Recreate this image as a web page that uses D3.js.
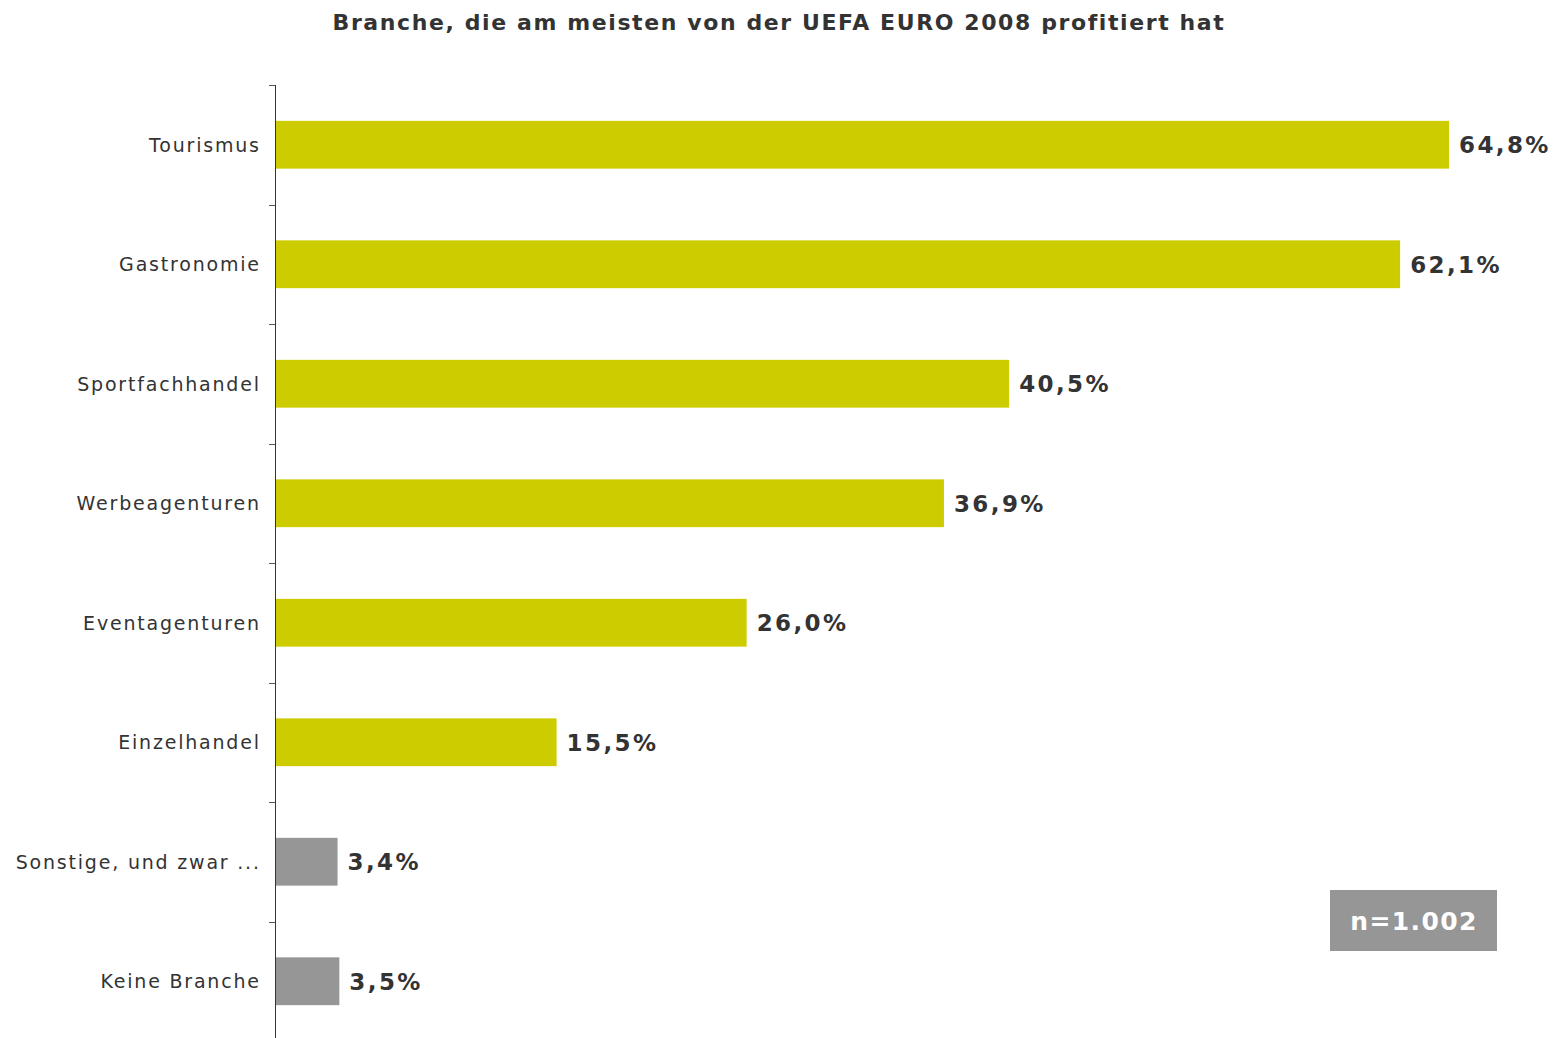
<!DOCTYPE html>
<html><head><meta charset="utf-8">
<script src="https://cdn.jsdelivr.net/npm/d3@7"></script>
<style>body{margin:0;background:#fff}svg{display:block}</style>
</head><body>
<svg id="c" width="1558" height="1038"></svg>
<script>
const categories = ["Tourismus","Gastronomie","Sportfachhandel","Werbeagenturen","Eventagenturen","Einzelhandel","Sonstige, und zwar ...","Keine Branche"];
const values = [64.8, 62.1, 40.5, 36.9, 26.0, 15.5, 3.4, 3.5];
const barColors = ["#CCCC00","#CCCC00","#CCCC00","#CCCC00","#CCCC00","#CCCC00","#969696","#969696"];
const valueLabels = ["64,8%","62,1%","40,5%","36,9%","26,0%","15,5%","3,4%","3,5%"];
const title = "Branche, die am meisten von der UEFA EURO 2008 profitiert hat";
const sampleNote = "n=1.002";

const svg = d3.select("#c");
const x0 = 276;
const x = d3.scaleLinear().domain([0, 64.8]).range([x0, 1449]);
const y = d3.scaleBand().domain(categories).range([85, 1041]).paddingInner(0.6).paddingOuter(0.3);
const font = "'DejaVu Sans', Verdana, sans-serif";

svg.append("text").attr("x", 779).attr("y", 30).attr("text-anchor","middle")
  .attr("font-family", font).attr("font-weight","bold").attr("font-size", 22)
  .attr("letter-spacing", "1.6px")
  .attr("fill","#333").text(title);

// bars
svg.selectAll("rect.bar").data(categories).join("rect").attr("class","bar")
  .attr("x", x(0)).attr("y", d => y(d))
  .attr("width", (d,i) => x(values[i]) - x(0)).attr("height", y.bandwidth())
  .attr("fill", (d,i) => barColors[i]);

// value labels
svg.selectAll("text.val").data(categories).join("text").attr("class","val")
  .attr("x", (d,i) => x(values[i]) + 10).attr("y", d => y(d) + y.bandwidth()/2)
  .attr("dy","0.36em").attr("font-family", font).attr("font-weight","bold")
  .attr("font-size", 23).attr("letter-spacing","2.4px").attr("fill","#333").text((d,i) => valueLabels[i]);

// axis
const step = y.step();
const r = y.range();
const ax = svg.append("g");
ax.append("line").attr("x1",275.5).attr("x2",275.5).attr("y1",r[0]).attr("y2",r[1])
  .attr("stroke","#333").attr("stroke-width",1);
d3.range(categories.length).forEach(i => {
  const yy = Math.round(r[0] + i*step) + 0.5;
  ax.append("line").attr("x1",269).attr("x2",275).attr("y1",yy).attr("y2",yy)
    .attr("stroke","#555").attr("stroke-width",1);
});
svg.selectAll("text.cat").data(categories).join("text").attr("class","cat")
  .attr("x", 260.8).attr("y", d => y(d) + y.bandwidth()/2).attr("dy","0.36em")
  .attr("text-anchor","end").attr("font-family", font).attr("font-size", 19)
  .attr("letter-spacing","1.8px")
  .attr("fill","#333").text(d => d);

// n box
svg.append("rect").attr("x",1330).attr("y",890).attr("width",167).attr("height",61).attr("fill","#969696");
svg.append("text").attr("x",1414).attr("y",921).attr("dy","0.36em").attr("text-anchor","middle")
  .attr("font-family", font).attr("font-weight","bold").attr("font-size",25)
  .attr("letter-spacing","1.4px").attr("fill","#fff").text(sampleNote);
</script>
</body></html>
